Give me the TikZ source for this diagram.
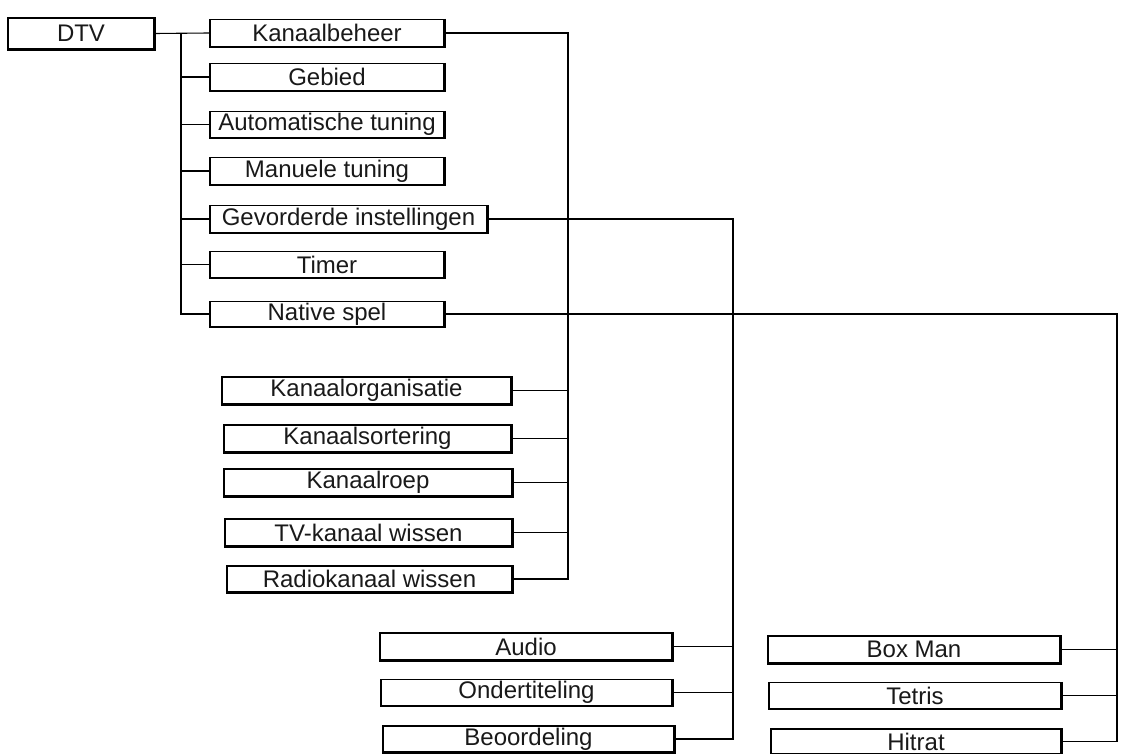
\documentclass[tikz,border=0pt]{standalone}
\usepackage{fontspec}
\setmainfont{Liberation Sans}
\begin{document}
\begin{tikzpicture}[x=1pt,y=-1pt,
  box/.style={draw, line width=1.1pt, inner sep=0pt, font=\fontsize{24}{27}\selectfont, text=black!90},
  conn/.style={line width=1.1pt}]
\useasboundingbox (0,0) rectangle (1121,754);
\node[box, minimum width=146, minimum height=31] (dtv) at (81,33.5) {DTV};
\node[box, minimum width=234, minimum height=27] (kb) at (327,33) {Kanaalbeheer};
\node[box, minimum width=234, minimum height=27] (geb) at (327,77) {Gebied};
\node[box, minimum width=234, minimum height=26] (auto) at (327,124.5) {Automatische tuning};
\node[box, minimum width=234, minimum height=27] (man) at (327,171) {Manuele tuning};
\node[box, minimum width=277, minimum height=27] (gev) at (348.5,219) {Gevorderde instellingen};
\node[box, minimum width=234, minimum height=26] (tim) at (327,264.5) {Timer};
\node[box, minimum width=234, minimum height=25] (nat) at (327,314) {Native spel};
\node[box, minimum width=289, minimum height=27] (ko) at (366.5,390.5) {Kanaalorganisatie};
\node[box, minimum width=287, minimum height=27] (ks) at (367.5,438.5) {Kanaalsortering};
\node[box, minimum width=288, minimum height=27] (kr) at (368,482.5) {Kanaalroep};
\node[box, minimum width=287, minimum height=27] (tv) at (368.5,532.5) {TV-kanaal wissen};
\node[box, minimum width=285, minimum height=26] (rk) at (369.5,579) {Radiokanaal wissen};
\node[box, minimum width=292, minimum height=27] (au) at (526,646.5) {Audio};
\node[box, minimum width=291, minimum height=26] (ond) at (526.5,692.5) {Ondertiteling};
\node[box, minimum width=291, minimum height=26] (beo) at (528.5,739) {Beoordeling};
\node[box, minimum width=292, minimum height=27] (bm) at (914,649.5) {Box Man};
\node[box, minimum width=292, minimum height=26] (tet) at (915,695.5) {Tetris};
\node[box, minimum width=290, minimum height=25] (hit) at (916,741.5) {Hitrat};
\foreach \n in {dtv,kb,geb,auto,man,gev,tim,nat,ko,ks,kr,tv,rk,au,ond,beo,bm,tet,hit}
  \draw[line width=2pt] (\n.north east) -- (\n.south east) -- (\n.south west);
\coordinate (tx) at (181,0);
\coordinate (kx) at (568,0);
\coordinate (gx) at (733,0);
\coordinate (nx) at (1117,0);
\draw[conn] (dtv.east) -- (kb.west);
\foreach \n in {geb,auto,man,gev,tim,nat}
  \draw[conn] (\n.west) -| (kb.west -| tx);
\draw[conn] (kb.east) -| (rk.east -| kx) -- (rk.east);
\foreach \n in {ko,ks,kr,tv}
  \draw[conn] (\n.east) -- (\n.east -| kx);
\draw[conn] (gev.east) -| (beo.east -| gx) -- (beo.east);
\foreach \n in {au,ond}
  \draw[conn] (\n.east) -- (\n.east -| gx);
\draw[conn] (nat.east) -| (hit.east -| nx) -- (hit.east);
\foreach \n in {bm,tet}
  \draw[conn] (\n.east) -- (\n.east -| nx);
\end{tikzpicture}
\end{document}
